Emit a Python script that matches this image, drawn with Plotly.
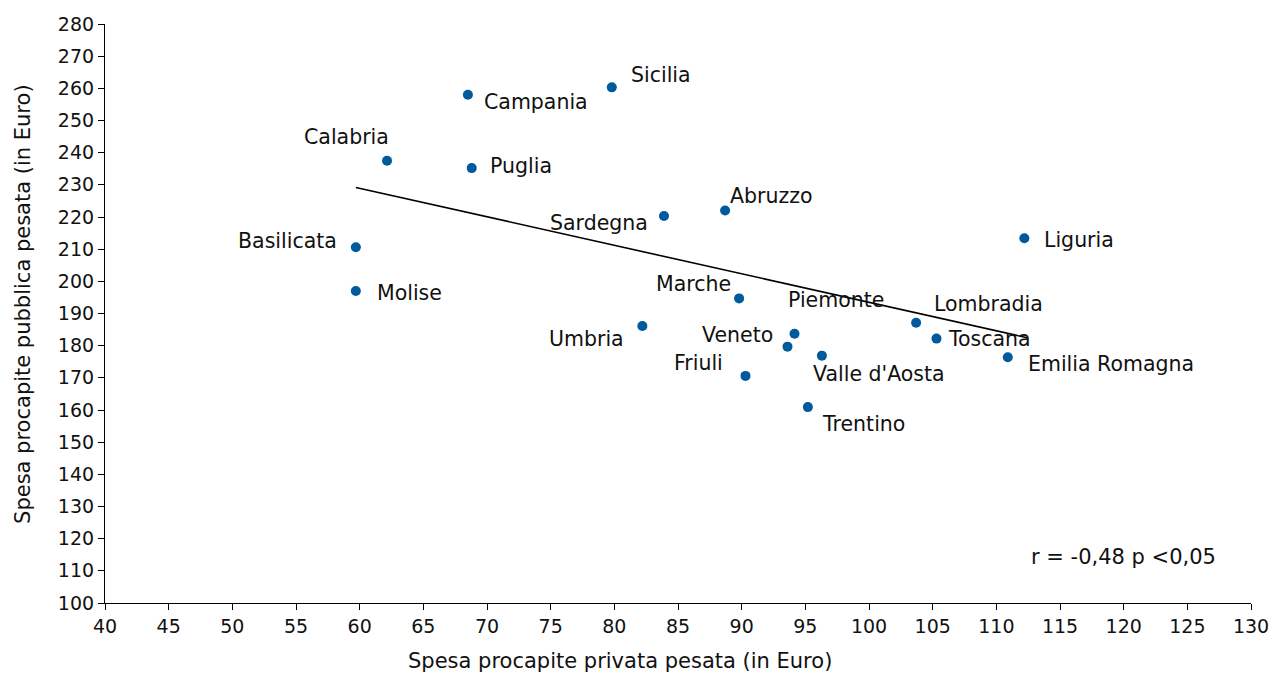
import plotly.graph_objects as go

regions = ["Campania", "Sicilia", "Calabria", "Puglia", "Sardegna", "Basilicata",
           "Abruzzo", "Marche", "Umbria", "Piemonte", "Veneto", "Valle d'Aosta",
           "Lombradia", "Friuli", "Trentino", "Liguria", "Toscana", "Emilia Romagna",
           "Molise"]
spesa_privata = [68.5, 79.8, 62.15, 68.8, 83.9, 59.7,
                 88.7, 89.8, 82.2, 94.15, 93.6, 96.3,
                 103.7, 90.3, 95.2, 112.2, 105.3, 110.9,
                 59.7]
spesa_pubblica = [258.0, 260.3, 237.5, 235.2, 220.3, 210.6,
                  222.0, 194.7, 186.1, 183.7, 179.7, 176.9,
                  187.1, 170.6, 160.9, 213.4, 182.2, 176.4,
                  197.0]
# trend line as drawn in the reference
trend_x = [59.7, 112.5]
trend_y = [229.2, 182.4]
x_ticks = list(range(40, 131, 5))
y_ticks = list(range(100, 281, 10))
stat_text = "r = -0,48 p <0,05"
x_title = "Spesa procapite privata pesata (in Euro)"
y_title = "Spesa procapite pubblica pesata (in Euro)"

# label placement (styling): anchor, xshift, yshift in px
label_pos = {
    "Campania": ("left", 14, -7),
    "Sicilia": ("left", 17, 12),
    "Calabria": ("right", 4, 24),
    "Puglia": ("left", 16, 2),
    "Sardegna": ("right", -14, -7),
    "Basilicata": ("right", -17, 6),
    "Abruzzo": ("left", 3, 15),
    "Marche": ("right", -6, 14),
    "Umbria": ("right", -16, -13),
    "Piemonte": ("left", -9, 34),
    "Veneto": ("right", -13, 12),
    "Valle d'Aosta": ("left", -11, -18),
    "Lombradia": ("left", 16, 19),
    "Friuli": ("right", -20, 13),
    "Trentino": ("left", 12, -17),
    "Liguria": ("left", 18, -2),
    "Toscana": ("left", 10, 0),
    "Emilia Romagna": ("left", 18, -7),
    "Molise": ("left", 19, -2),
}

FONT = "DejaVu Sans"
TXT = "#111111"
fig = go.Figure()

fig.add_trace(go.Scatter(x=trend_x, y=trend_y, mode="lines",
                         line=dict(color="black", width=1.6), hoverinfo="skip",
                         showlegend=False))

fig.add_trace(go.Scatter(x=spesa_privata, y=spesa_pubblica, mode="markers",
                         marker=dict(color="#005a9c", size=10),
                         text=regions, showlegend=False))

annotations = []
for name, xv, yv in zip(regions, spesa_privata, spesa_pubblica):
    anc, xs_, ys_ = label_pos[name]
    annotations.append(dict(x=xv, y=yv, xref="x", yref="y", text=name,
                            showarrow=False, xanchor=anc, yanchor="middle",
                            xshift=xs_, yshift=ys_,
                            font=dict(family=FONT, size=20.5, color=TXT)))

annotations.append(dict(x=112.6, y=114.3, xref="x", yref="y", text=stat_text,
                        showarrow=False, xanchor="left", yanchor="middle",
                        font=dict(family=FONT, size=21, color=TXT)))
annotations.append(dict(x=0.4494, y=-0.1002, xref="paper", yref="paper",
                        text=x_title, showarrow=False, xanchor="center",
                        yanchor="middle", borderpad=0,
                        font=dict(family=FONT, size=21, color=TXT)))
annotations.append(dict(x=-0.0716, y=0.5164, xref="paper", yref="paper",
                        text=y_title, showarrow=False, textangle=-90,
                        xanchor="center", yanchor="middle",
                        font=dict(family=FONT, size=21, color=TXT)))

fig.update_layout(
    width=1272, height=675,
    margin=dict(l=105, r=21, t=24, b=72, autoexpand=False),
    plot_bgcolor="white", paper_bgcolor="white",
    font=dict(family=FONT, size=19, color=TXT),
    annotations=annotations,
    xaxis=dict(range=[40, 130], tickvals=x_ticks, showgrid=False, zeroline=False,
               showline=True, linecolor="black", linewidth=1.2, automargin=False,
               ticks="outside", ticklen=6, tickcolor="black",
               tickfont=dict(family=FONT, size=19, color=TXT)),
    yaxis=dict(range=[100, 280], tickvals=y_ticks, showgrid=False, zeroline=False,
               showline=True, linecolor="black", linewidth=1.2, automargin=False,
               ticks="outside", ticklen=6, tickcolor="black",
               tickfont=dict(family=FONT, size=19, color=TXT)),
)

fig.write_html("out.html", config={"displayModeBar": False},
               post_script="document.body.style.margin='0';")
